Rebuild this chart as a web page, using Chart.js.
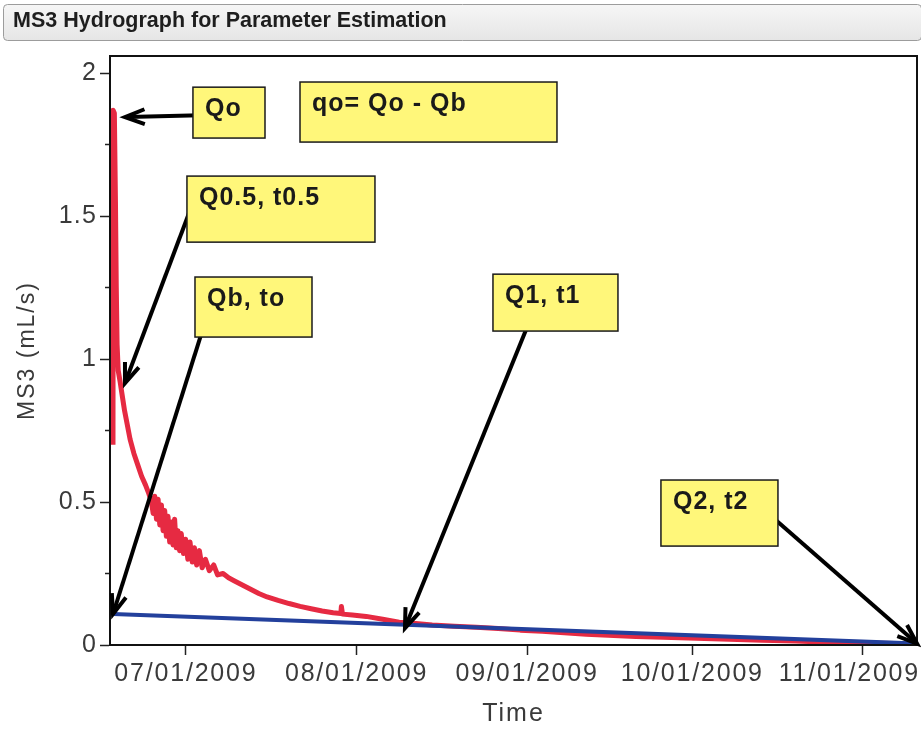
<!DOCTYPE html>
<html>
<head>
<meta charset="utf-8">
<title>MS3 Hydrograph for Parameter Estimation</title>
<script src="https://cdn.jsdelivr.net/npm/chart.js@4.4.1/dist/chart.umd.min.js"></script>
<style>
  html, body { margin: 0; padding: 0; background: #fff; }
  canvas { display: block; }
</style>
</head>
<body>
<canvas id="hydro" width="921" height="729"></canvas>
<script>
// ---- data -------------------------------------------------------------
const DAY = 86400000;
const recordStart = Date.parse('2009-06-17T18:00:00Z');
const axisStart = Date.parse('2009-06-17T05:00:00Z');
const axisEnd = Date.parse('2009-11-10T20:00:00Z');

const monthTicks = ['2009-07-01', '2009-08-01', '2009-09-01', '2009-10-01', '2009-11-01'];
const yTicks = [0, 0.25, 0.5, 0.75, 1, 1.25, 1.5, 1.75, 2];

// recorded MS3 flow: elapsed days since record start, flow in mL/s
const flowDays = [
  0.00, 0.04, 0.25, 0.45, 0.60, 0.75, 0.95, 1.3, 1.7, 2.1, 2.6, 3.1, 3.8, 4.5, 5.2, 5.9, 6.5,
  7.0, 7.3, 7.6, 7.9, 8.2, 8.5, 8.8, 9.1, 9.4, 9.7, 10.0, 10.3, 10.6, 10.9, 11.2, 11.5, 11.8,
  12.1, 12.4, 12.8, 13.2, 13.6, 14.0, 14.4, 14.8, 15.2, 15.7, 16.2, 16.8, 17.5, 18.3, 19.0,
  20.0, 21.0, 22.0, 23.5, 25.0, 26.5, 28.0, 30.0, 32.0, 34.0, 36.0, 38.0, 40.0, 41.4, 41.5,
  41.7, 43.5, 46.0, 49.0, 52.0, 55.0, 58.0, 62.0, 66.0, 70.0, 74.0, 78.0, 82.0, 86.0, 90.0,
  95.0, 100.0, 106.0, 112.0, 118.0, 124.0, 130.0, 136.0, 142.0
];
const flowMS3 = [
  0.70, 1.87, 1.86, 1.55, 1.25, 1.05, 0.96, 0.92, 0.87, 0.82, 0.77, 0.72, 0.67, 0.63, 0.59, 0.56, 0.53,
  0.50, 0.46, 0.52, 0.44, 0.51, 0.42, 0.49, 0.40, 0.47, 0.38, 0.45, 0.36, 0.43, 0.35, 0.44, 0.34, 0.40,
  0.33, 0.39, 0.32, 0.37, 0.30, 0.36, 0.29, 0.34, 0.28, 0.33, 0.27, 0.30, 0.26, 0.28, 0.245,
  0.25, 0.235, 0.225, 0.21, 0.195, 0.18, 0.168, 0.156, 0.145, 0.135, 0.127, 0.119, 0.113, 0.11, 0.135,
  0.108, 0.105, 0.10, 0.09, 0.08, 0.075, 0.07, 0.066, 0.062, 0.058, 0.052, 0.048, 0.043, 0.038, 0.034,
  0.030, 0.027, 0.024, 0.020, 0.017, 0.014, 0.010, 0.007, 0.005
];

// baseflow line from Qb,to to Q2,t2
const baseDays = [0, 146.08];
const baseMS3 = [0.108, 0.005];

// callouts: box corners and arrow ends in (elapsed days, mL/s)
const callouts = [
  { text: 'Qo', box: [14.53, 1.951, 27.62, 1.773], from: [15.81, 1.853], to: [2.18, 1.846] },
  { text: 'qo= Qo - Qb', box: [33.98, 1.969, 80.67, 1.759] },
  { text: 'Q0.5, t0.5', box: [13.44, 1.640, 47.60, 1.409], from: [14.35, 1.538], to: [2.18, 0.916] },
  { text: 'Qb, to', box: [14.90, 1.287, 36.16, 1.077], from: [17.99, 1.206], to: [baseDays[0], baseMS3[0]] },
  { text: 'Q1, t1', box: [69.04, 1.297, 91.75, 1.098], from: [75.40, 1.119], to: [53.05, 0.059] },
  { text: 'Q2, t2', box: [99.56, 0.577, 120.82, 0.346], from: [119.37, 0.455], to: [baseDays[1], baseMS3[1]] }
];

// ---- helpers ----------------------------------------------------------
const FONT = "'Liberation Sans', Arial, Helvetica, sans-serif";
const toTime = d => recordStart + d * DAY;
const pad2 = n => String(n).padStart(2, '0');
function formatDate(v) {
  const d = new Date(v);
  return pad2(d.getUTCMonth() + 1) + '/' + pad2(d.getUTCDate()) + '/' + d.getUTCFullYear();
}
const isMajor = v => Math.abs(v * 2 - Math.round(v * 2)) < 1e-9;

const flowPoints = flowDays.map((d, i) => ({ x: toTime(d), y: flowMS3[i] }));
const basePoints = baseDays.map((d, i) => ({ x: toTime(d), y: baseMS3[i] }));

// ---- plugins ----------------------------------------------------------
const panelBackground = {
  id: 'panelBackground',
  beforeDraw(chart) {
    const ctx = chart.ctx;
    ctx.save();
    ctx.fillStyle = '#ffffff';
    ctx.fillRect(0, 0, chart.width, chart.height);
    // header bar behind the title
    const x = 3, y = 4, w = chart.width - 3, h = 36, r = 4;
    const g = ctx.createLinearGradient(0, y, 0, y + h);
    g.addColorStop(0, '#f6f6f6');
    g.addColorStop(1, '#e6e6e6');
    ctx.beginPath();
    ctx.roundRect(x + 0.5, y + 0.5, w, h, r);
    ctx.fillStyle = g;
    ctx.fill();
    ctx.strokeStyle = '#9c9c9c';
    ctx.lineWidth = 1;
    ctx.stroke();
    ctx.restore();
  }
};

const axisText = {
  id: 'axisText',
  beforeDraw(chart) {
    for (const s of Object.values(chart.scales)) {
      if (s.$spaced) continue;
      s.$spaced = true;
      const drawLabels = s.drawLabels;
      const drawTitle = s.drawTitle;
      const spacing = s.axis === 'x' ? '1.8px' : '1.2px';
      s.drawLabels = function (area) {
        const c = this.ctx; c.save(); c.letterSpacing = spacing; drawLabels.call(this, area); c.restore();
      };
      s.drawTitle = function () {
        const c = this.ctx; c.save(); c.letterSpacing = '2px'; drawTitle.call(this); c.restore();
      };
    }
    // keep the last date label inside the canvas
    const items = chart.scales.x.getLabelItems();
    const last = items[items.length - 1];
    if (last) {
      last.options.textAlign = 'right';
      last.options.translation[0] = chart.width - 1;
    }
  }
};

const frameAndCallouts = {
  id: 'frameAndCallouts',
  afterDatasetsDraw(chart) {
    const { ctx, chartArea: a, scales: { x, y } } = chart;
    ctx.save();
    ctx.strokeStyle = '#111';
    ctx.lineWidth = 2;
    ctx.strokeRect(a.left, a.top, a.right - a.left, a.bottom - a.top);

    const px = d => x.getPixelForValue(toTime(d));
    const py = v => y.getPixelForValue(v);

    // arrows
    ctx.strokeStyle = '#000';
    ctx.lineWidth = 4;
    ctx.lineJoin = 'miter';
    for (const c of callouts) {
      if (!c.from) continue;
      const x0 = px(c.from[0]), y0 = py(c.from[1]);
      const x1 = px(c.to[0]), y1 = py(c.to[1]);
      const ang = Math.atan2(y1 - y0, x1 - x0);
      const L = 21, w = 0.36;
      ctx.beginPath();
      ctx.moveTo(x0, y0);
      ctx.lineTo(x1 - 3 * Math.cos(ang), y1 - 3 * Math.sin(ang));
      ctx.stroke();
      ctx.beginPath();
      ctx.moveTo(x1 - L * Math.cos(ang - w), y1 - L * Math.sin(ang - w));
      ctx.lineTo(x1, y1);
      ctx.lineTo(x1 - L * Math.cos(ang + w), y1 - L * Math.sin(ang + w));
      ctx.stroke();
    }

    // label boxes
    ctx.font = 'bold 25px ' + FONT;
    ctx.letterSpacing = '1px';
    ctx.textBaseline = 'alphabetic';
    ctx.textAlign = 'left';
    for (const c of callouts) {
      const l = px(c.box[0]), t = py(c.box[1]);
      const r = px(c.box[2]), b = py(c.box[3]);
      ctx.fillStyle = '#fff77a';
      ctx.fillRect(l, t, r - l, b - t);
      ctx.strokeStyle = '#1a1a1a';
      ctx.lineWidth = 1.5;
      ctx.strokeRect(l, t, r - l, b - t);
      ctx.fillStyle = '#1a1a1a';
      ctx.fillText(c.text, l + 12, t + 29);
    }
    ctx.restore();
  }
};

// ---- chart ------------------------------------------------------------
new Chart(document.getElementById('hydro'), {
  type: 'line',
  data: {
    datasets: [
      {
        label: 'Baseflow',
        data: basePoints,
        borderColor: '#23409c',
        borderWidth: 4,
        pointRadius: 0,
        tension: 0,
        order: 0
      },
      {
        label: 'MS3',
        data: flowPoints,
        borderColor: '#e62a42',
        borderWidth: 5,
        pointRadius: 0,
        tension: 0,
        borderJoinStyle: 'round',
        order: 1
      }
    ]
  },
  options: {
    responsive: false,
    animation: false,
    devicePixelRatio: 1,
    layout: { padding: { left: 13, right: 4, top: 0, bottom: 0 } },
    plugins: {
      legend: { display: false },
      tooltip: { enabled: false },
      title: {
        display: true,
        text: 'MS3 Hydrograph for Parameter Estimation',
        align: 'start',
        color: '#1e1e1e',
        font: { family: FONT, size: 21.5, weight: 'bold', lineHeight: 1.2 },
        padding: { top: 8.6, bottom: 21.6 }
      }
    },
    scales: {
      x: {
        type: 'linear',
        min: axisStart,
        max: axisEnd,
        afterBuildTicks: s => { s.ticks = monthTicks.map(m => ({ value: Date.parse(m + 'T00:00:00Z') })); },
        afterFit: s => { s.height = 84; s.paddingLeft = 0; s.paddingRight = 0; },
        ticks: {
          autoSkip: false, maxRotation: 0, minRotation: 0, padding: 4,
          color: '#3a3a3a',
          font: { family: FONT, size: 25 },
          callback: v => formatDate(v)
        },
        grid: { display: true, drawOnChartArea: false, drawTicks: true, tickLength: 10, tickColor: '#222', tickWidth: 1.5 },
        border: { display: true, color: '#111', width: 2 },
        title: { display: true, text: 'Time', color: '#3a3a3a', font: { family: FONT, size: 25 }, padding: { top: 0, bottom: 0 } }
      },
      y: {
        min: 0,
        max: 2.06,
        afterBuildTicks: s => { s.ticks = yTicks.map(v => ({ value: v })); },
        afterFit: s => { s.width = 97; },
        ticks: {
          autoSkip: false, padding: 3,
          color: '#3a3a3a',
          font: { family: FONT, size: 25 },
          callback: v => (isMajor(v) ? String(v) : '')
        },
        grid: {
          display: true, drawOnChartArea: false, drawTicks: true, tickLength: 10,
          tickColor: '#222', tickWidth: 1.5,
          tickBorderDash: ctx => (ctx.tick && isMajor(ctx.tick.value) ? [] : [0, 5, 6, 0])
        },
        border: { display: true, color: '#111', width: 2 },
        title: { display: true, text: 'MS3 (mL/s)', color: '#3a3a3a', font: { family: FONT, size: 23 }, padding: { top: 1, bottom: 0 } }
      }
    }
  },
  plugins: [panelBackground, axisText, frameAndCallouts]
});
</script>
</body>
</html>
